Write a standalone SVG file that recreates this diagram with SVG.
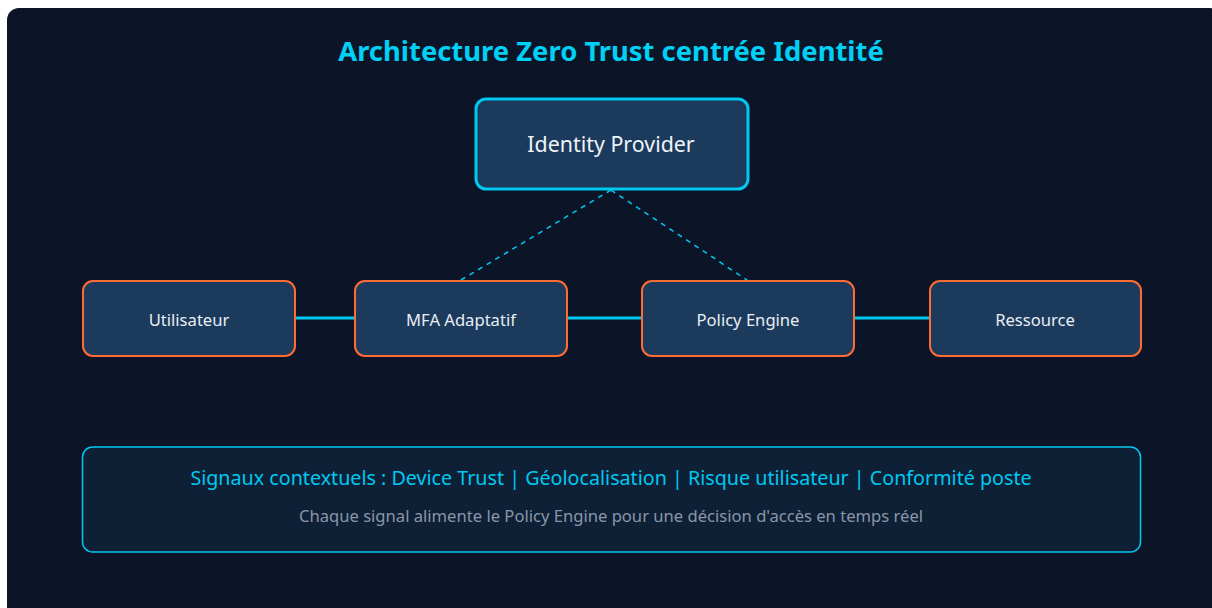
<svg xmlns="http://www.w3.org/2000/svg" width="1212" height="608" viewBox="0 0 1212 608">
<style>
.t{font-family:"Noto Sans","Open Sans",sans-serif}
.row rect{fill:#1b3a5c;stroke:#ff6b35;stroke-width:2}
.row text{fill:#e8eef5;font-size:16.6px;text-anchor:middle}
.solid{stroke:#00c8f0;stroke-width:3}
.dash{stroke:#00c8f0;stroke-width:1.5;stroke-dasharray:5 5;fill:none}
</style>
<rect x="0" y="0" width="1212" height="608" fill="#ffffff"/>
<rect x="7" y="8" width="1215" height="612" rx="12" fill="#0b1527"/>
<text class="t" x="611" y="61" text-anchor="middle" font-size="27.4" font-weight="bold" fill="#00d0f5">Architecture Zero Trust centrée Identité</text>
<g id="connectors">
<line class="solid" x1="295" y1="318" x2="355" y2="318"/>
<line class="solid" x1="567" y1="318" x2="642" y2="318"/>
<line class="solid" x1="854" y1="318" x2="930" y2="318"/>
<line class="dash" x1="611" y1="190" x2="461" y2="280"/>
<line class="dash" x1="611" y1="190" x2="747" y2="280"/>
</g>
<g id="idp">
<rect x="476" y="99" width="272" height="90" rx="10" fill="#1b3a5c" stroke="#00c8f0" stroke-width="3"/>
<text class="t" x="611" y="152" text-anchor="middle" font-size="21.4" fill="#eef3f8">Identity Provider</text>
</g>
<g id="utilisateur" class="row">
<rect x="83" y="281" width="212" height="75" rx="10"/>
<text class="t" x="189" y="326">Utilisateur</text>
</g>
<g id="mfa" class="row">
<rect x="355" y="281" width="212" height="75" rx="10"/>
<text class="t" x="461" y="326">MFA Adaptatif</text>
</g>
<g id="policy" class="row">
<rect x="642" y="281" width="212" height="75" rx="10"/>
<text class="t" x="748" y="326">Policy Engine</text>
</g>
<g id="ressource" class="row">
<rect x="930" y="281" width="211" height="75" rx="10"/>
<text class="t" x="1035" y="326">Ressource</text>
</g>
<g id="signaux">
<rect x="82.5" y="447" width="1058" height="105" rx="10" fill="#0e2036" stroke="#00c8f0" stroke-width="1.5"/>
<text class="t" x="611" y="485" text-anchor="middle" font-size="19.7" fill="#00c8f0">Signaux contextuels : Device Trust | Géolocalisation | Risque utilisateur | Conformité poste</text>
<text class="t" x="611" y="522" text-anchor="middle" font-size="16.6" fill="#8a96a8">Chaque signal alimente le Policy Engine pour une décision d'accès en temps réel</text>
</g>
</svg>
